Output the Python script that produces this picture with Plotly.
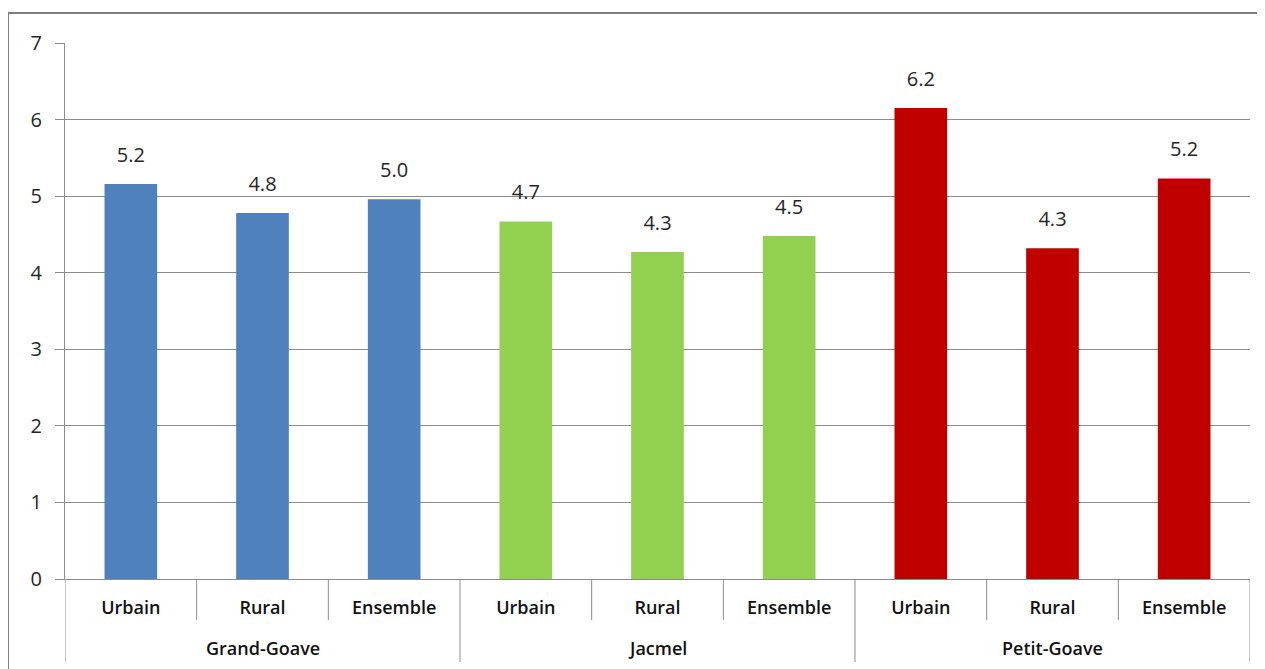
import plotly.graph_objects as go

groupes = ["Grand-Goave", "Jacmel", "Petit-Goave"]
milieux = ["Urbain", "Rural", "Ensemble"]
valeurs = [5.16, 4.78, 4.96, 4.67, 4.27, 4.48, 6.15, 4.32, 5.23]
couleurs_groupes = ["#4F81BD", "#92D050", "#C00000"]
y_ticks = [0, 1, 2, 3, 4, 5, 6, 7]

n_sub = len(milieux)
positions = list(range(len(valeurs)))
etiquettes = [milieux[i % n_sub] for i in positions]
couleurs = [couleurs_groupes[i // n_sub] for i in positions]

GRID = "#8C8C8C"
FONT = "Open Sans"

# figure sits 8px inside the page (body margin)
W, H = 1257, 661
L, R, T, B = 57, 15, 35, 90
plot_h = H - T - B
plot_w = W - L - R


def py(px):  # pixels below plot bottom -> paper y
    return -px / plot_h


fig = go.Figure()
fig.add_trace(go.Bar(
    x=positions, y=valeurs,
    marker=dict(color=couleurs, line=dict(width=0)),
    width=0.4, showlegend=False, hoverinfo="skip",
))
fig.add_trace(go.Scatter(
    x=positions, y=valeurs,
    mode="markers+text",
    text=[f"{v:.1f}" for v in valeurs],
    textposition="top center",
    textfont=dict(family=FONT, size=20, color="#262626"),
    marker=dict(size=26, opacity=0),
    showlegend=False, hoverinfo="skip",
))

shapes = []
# subcategory separators
for i in range(len(valeurs) + 1):
    depth = 83 if i % n_sub == 0 else 41
    shapes.append(dict(type="line", xref="x", yref="paper",
                       x0=i - 0.5, x1=i - 0.5, y0=0, y1=py(depth),
                       line=dict(color=GRID, width=1)))
# outer frame
shapes.append(dict(type="line", xref="paper", yref="paper",
                   x0=-L / plot_w, x1=1.05, y0=1 + (T - 5) / plot_h, y1=1 + (T - 5) / plot_h,
                   line=dict(color="#7F7F7F", width=2)))
shapes.append(dict(type="line", xref="paper", yref="paper",
                   x0=-L / plot_w, x1=-L / plot_w, y0=1 + (T - 5) / plot_h, y1=-0.3,
                   line=dict(color="#7F7F7F", width=2)))

annotations = []
for g, nom in enumerate(groupes):
    annotations.append(dict(
        x=g * n_sub + (n_sub - 1) / 2, y=py(69), xref="x", yref="paper",
        text=nom, showarrow=False, yanchor="middle",
        font=dict(family=FONT, size=18, color="#111111", weight=600),
    ))

fig.update_layout(
    width=W, height=H,
    margin=dict(l=L, r=R, t=T, b=B, autoexpand=False),
    paper_bgcolor="white", plot_bgcolor="white",
    shapes=shapes, annotations=annotations,
)
fig.update_yaxes(
    range=[0, 7], tickvals=y_ticks,
    showgrid=True, gridcolor=GRID, gridwidth=1,
    showline=True, linecolor=GRID, linewidth=1,
    ticks="outside", ticklen=9, tickcolor=GRID,
    ticklabelstandoff=9,
    tickfont=dict(family=FONT, size=20, color="#262626"),
    zeroline=False,
)
fig.update_xaxes(
    range=[-0.5, len(valeurs) - 0.5],
    tickvals=positions, ticktext=etiquettes,
    showgrid=False, zeroline=False,
    showline=True, linecolor=GRID, linewidth=1,
    ticks="", ticklabelstandoff=12,
    tickfont=dict(family=FONT, size=18, color="#111111", weight=600),
)

fig.write_html("out.html")
